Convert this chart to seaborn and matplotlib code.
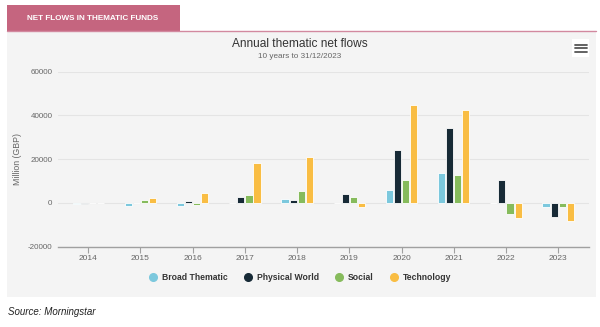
import matplotlib
matplotlib.use("Agg")
import matplotlib.pyplot as plt
from matplotlib.patches import Rectangle
from matplotlib.lines import Line2D
import seaborn as sns
import pandas as pd

years = ["2014", "2015", "2016", "2017", "2018", "2019", "2020", "2021", "2022", "2023"]
broad_thematic = [-600, -1500, -1500, 0, 1800, 0, 6000, 13700, 0, -1700]
physical_world = [-300, 0, 1000, 2700, 1400, 4000, 24200, 34300, 10600, -6400]
social = [0, 1200, -900, 3800, 5500, 2600, 10600, 12800, -4900, -1700]
technology = [0, 2400, 4700, 18200, 21000, -2000, 44600, 42500, -7000, -8100]
series_names = ["Broad Thematic", "Physical World", "Social", "Technology"]
colors = ["#7cc8dd", "#172a36", "#86bb5c", "#f9bd43"]
yticks = [-20000, 0, 20000, 40000, 60000]

rows = []
for name, vals in zip(series_names, [broad_thematic, physical_world, social, technology]):
    for y, v in zip(years, vals):
        rows.append({"Year": y, "Series": name, "Value": v})
df = pd.DataFrame(rows)

sns.set_style("white")
plt.rcParams["font.family"] = ["Liberation Sans", "DejaVu Sans"]

W, H = 600, 327
fig = plt.figure(figsize=(6, 3.27), dpi=100)
fig.patch.set_facecolor("white")

def fx(px):
    return px / W

def fy(py):
    return 1 - py / H

# panel background
fig.patches.append(Rectangle((fx(7), fy(297)), fx(596) - fx(7), fy(31) - fy(297),
                             transform=fig.transFigure, facecolor="#f4f4f4",
                             edgecolor="none", zorder=-2))
# pink tab
fig.patches.append(Rectangle((fx(7), fy(31)), fx(180) - fx(7), fy(5) - fy(31),
                             transform=fig.transFigure, facecolor="#c5657f",
                             edgecolor="none", zorder=-2))
# pink line
fig.lines.append(Line2D([fx(7), fx(596)], [fy(31), fy(31)], transform=fig.transFigure,
                        color="#d2899f", lw=1.0, zorder=-1))
fig.text(fx(27), fy(18), "NET FLOWS IN THEMATIC FUNDS", color="white", fontsize=5.9,
         fontweight="bold", ha="left", va="center")

# hamburger icon
fig.patches.append(Rectangle((fx(572), fy(57)), fx(589) - fx(572), fy(39) - fy(57),
                             transform=fig.transFigure, facecolor="white",
                             edgecolor="none", zorder=-1))
for py in [44.5, 48, 51.5]:
    fig.lines.append(Line2D([fx(575), fx(587)], [fy(py), fy(py)], transform=fig.transFigure,
                            color="#555555", lw=1.3, zorder=0))

ax = fig.add_axes([fx(58), fy(246.7), fx(589) - fx(58), fy(71.7) - fy(246.7)])
ax.set_zorder(5)
ax.set_facecolor("#f4f4f4")

sns.barplot(data=df, x="Year", y="Value", hue="Series", hue_order=series_names,
            order=years, palette=colors, saturation=1, width=0.62, gap=0.12, ax=ax,
            edgecolor="white", linewidth=0.6, legend=False, errorbar=None, zorder=3)

ax.set_ylim(-20000, 60000)
ax.set_xlim(-0.58, 9.59)
ax.set_yticks(yticks)
ax.set_yticklabels([str(t) for t in yticks])
ax.grid(axis="y", color="#e4e4e4", lw=0.8, zorder=0)
ax.set_axisbelow(True)
for s in ["top", "right", "left"]:
    ax.spines[s].set_visible(False)
ax.spines["bottom"].set_color("#a0a0a0")
ax.spines["bottom"].set_linewidth(1.0)
ax.tick_params(axis="x", colors="#a0a0a0", length=4, width=0.8, labelcolor="#666666",
               labelsize=6, pad=2, direction="out", bottom=True)
ax.tick_params(axis="y", length=0, labelcolor="#666666", labelsize=5.8, pad=4)
ax.set_xlabel("")
ax.set_ylabel("Million (GBP)", color="#666666", fontsize=6.3)
ax.yaxis.set_label_coords((21.7 - 58) / 531, (246.7 - 159) / 175)

fig.text(0.5, fy(44.3), "Annual thematic net flows", ha="center", va="center",
         fontsize=8.6, color="#333333")
fig.text(0.5, fy(57), "10 years to 31/12/2023", ha="center", va="center",
         fontsize=5.9, color="#666666")

handles = [Line2D([0], [0], marker="o", linestyle="none", markersize=5.5,
                  markerfacecolor=c, markeredgecolor=c) for c in colors]
leg = fig.legend(handles, series_names, loc="center", bbox_to_anchor=(fx(300), fy(278)),
                 ncol=4, frameon=False, fontsize=6.2, handletextpad=0.55,
                 columnspacing=1.8, handlelength=1.0)
for t in leg.get_texts():
    t.set_color("#333333")
    t.set_fontweight("bold")

fig.text(fx(8), fy(312), "Source: Morningstar", ha="left", va="center",
         fontsize=7, style="italic", color="#222222")

fig.savefig("out.png", dpi=100, facecolor="white")
